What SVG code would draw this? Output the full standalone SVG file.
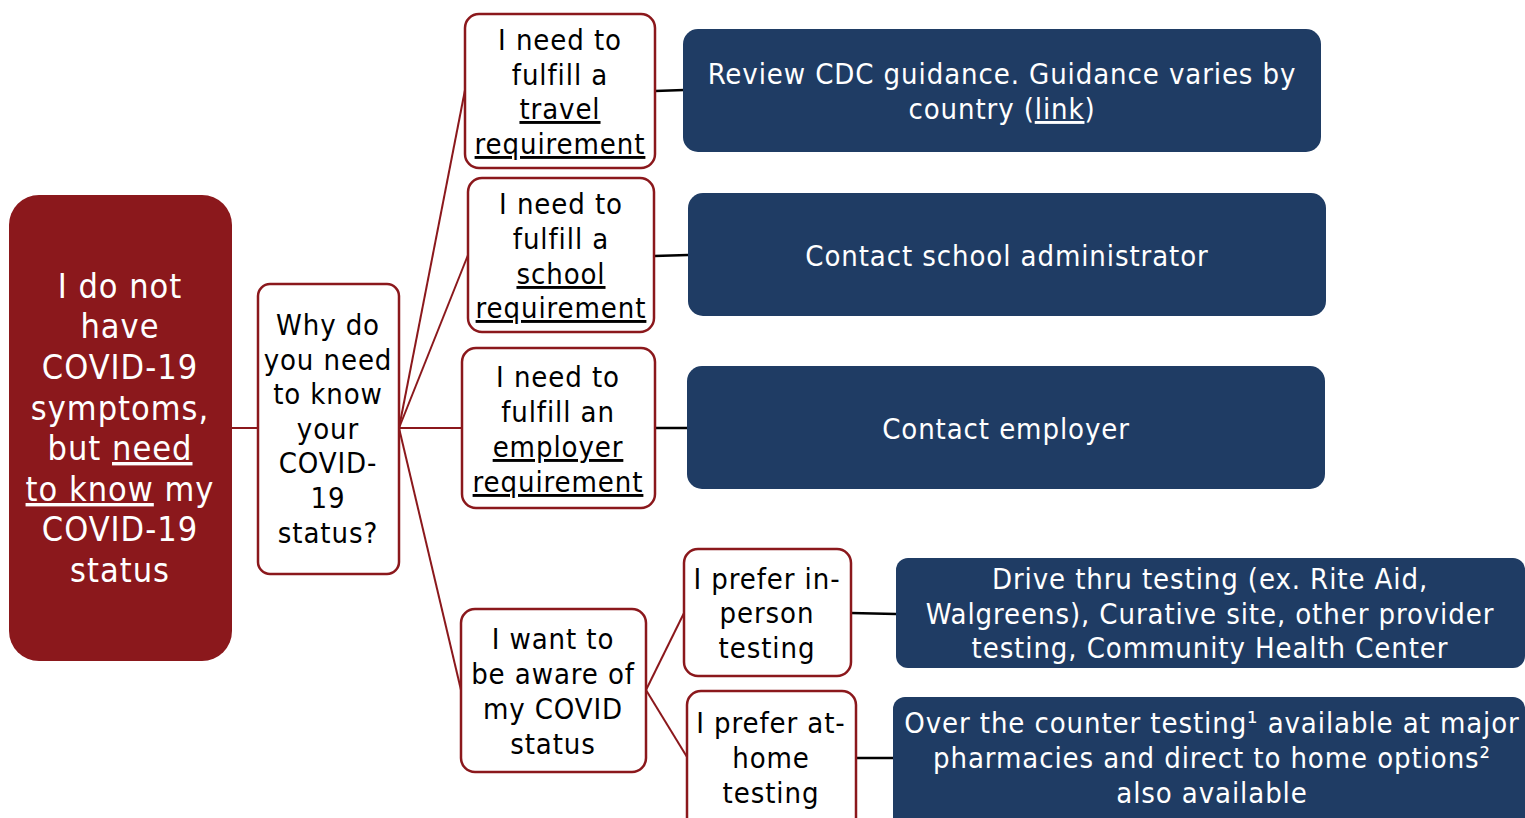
<svg xmlns="http://www.w3.org/2000/svg" width="1525" height="818" viewBox="0 0 1525 818">
<style>
text{font-family:"DejaVu Sans Condensed","DejaVu Sans",sans-serif;font-stretch:condensed;text-anchor:middle}
.root{fill:#8B181C}
.rt{fill:#fff;font-size:34px;letter-spacing:1px}
.q{fill:#fff;stroke:#8B181C;stroke-width:2.5}
.qt{fill:#000;font-size:29px;letter-spacing:0.9px}
.b{fill:#1F3C64}
.bt{fill:#fff;font-size:29px;letter-spacing:0.9px}
.u{text-decoration:underline}
.cr{stroke:#8B181C;stroke-width:2;fill:none}
.ck{stroke:#000;stroke-width:2.5;fill:none}
</style>
<rect width="1525" height="818" fill="#fff"/>
<g id="connectors">
<line class="cr" x1="232" y1="428" x2="258" y2="428"/>
<line class="cr" x1="399" y1="428" x2="465" y2="90"/>
<line class="cr" x1="399" y1="428" x2="468" y2="255"/>
<line class="cr" x1="399" y1="428" x2="462" y2="428"/>
<line class="cr" x1="399" y1="428" x2="461" y2="690"/>
<line class="cr" x1="646" y1="690" x2="684" y2="613"/>
<line class="cr" x1="646" y1="690" x2="687" y2="757"/>
<line class="ck" x1="655" y1="91" x2="684" y2="90"/>
<line class="ck" x1="654" y1="256" x2="688" y2="255"/>
<line class="ck" x1="655" y1="428" x2="688" y2="428"/>
<line class="ck" x1="851" y1="613" x2="896" y2="614"/>
<line class="ck" x1="856" y1="758" x2="893" y2="758"/>
</g>
<g id="root">
<rect class="root" x="9" y="195" width="223" height="466" rx="30"/>
<text class="rt" x="120" y="298">I do not</text>
<text class="rt" x="120" y="338">have</text>
<text class="rt" x="120" y="379">COVID-19</text>
<text class="rt" x="120" y="420">symptoms,</text>
<text class="rt" x="120" y="460">but <tspan class="u">need</tspan></text>
<text class="rt" x="120" y="501"><tspan class="u">to know</tspan> my</text>
<text class="rt" x="120" y="541">COVID-19</text>
<text class="rt" x="120" y="582">status</text>
</g>
<g id="why">
<rect class="q" x="258" y="284" width="141" height="290" rx="12"/>
<text class="qt" x="328" y="335">Why do</text>
<text class="qt" x="328" y="370">you need</text>
<text class="qt" x="328" y="404">to know</text>
<text class="qt" x="328" y="439">your</text>
<text class="qt" x="328" y="473">COVID-</text>
<text class="qt" x="328" y="508">19</text>
<text class="qt" x="328" y="543">status?</text>
</g>
<g id="travel">
<rect class="q" x="465" y="14" width="190" height="154" rx="14"/>
<text class="qt" x="560" y="50">I need to</text>
<text class="qt" x="560" y="85">fulfill a</text>
<text class="qt" x="560" y="119"><tspan class="u">travel</tspan></text>
<text class="qt" x="560" y="154"><tspan class="u">requirement</tspan></text>
</g>
<g id="school">
<rect class="q" x="468" y="178" width="186" height="154" rx="14"/>
<text class="qt" x="561" y="214">I need to</text>
<text class="qt" x="561" y="249">fulfill a</text>
<text class="qt" x="561" y="284"><tspan class="u">school</tspan></text>
<text class="qt" x="561" y="318"><tspan class="u">requirement</tspan></text>
</g>
<g id="employer">
<rect class="q" x="462" y="348" width="193" height="160" rx="14"/>
<text class="qt" x="558" y="387">I need to</text>
<text class="qt" x="558" y="422">fulfill an</text>
<text class="qt" x="558" y="457"><tspan class="u">employer</tspan></text>
<text class="qt" x="558" y="492"><tspan class="u">requirement</tspan></text>
</g>
<g id="aware">
<rect class="q" x="461" y="609" width="185" height="163" rx="14"/>
<text class="qt" x="553" y="649">I want to</text>
<text class="qt" x="553" y="684">be aware of</text>
<text class="qt" x="553" y="719">my COVID</text>
<text class="qt" x="553" y="754">status</text>
</g>
<g id="inperson">
<rect class="q" x="684" y="549" width="167" height="127" rx="14"/>
<text class="qt" x="767" y="589">I prefer in-</text>
<text class="qt" x="767" y="623">person</text>
<text class="qt" x="767" y="658">testing</text>
</g>
<g id="athome">
<rect class="q" x="687" y="691" width="169" height="145" rx="14"/>
<text class="qt" x="771" y="733">I prefer at-</text>
<text class="qt" x="771" y="768">home</text>
<text class="qt" x="771" y="803">testing</text>
</g>
<g id="cdc">
<rect class="b" x="683" y="29" width="638" height="123" rx="15"/>
<text class="bt" x="1002" y="84">Review CDC guidance. Guidance varies by</text>
<text class="bt" x="1002" y="119">country (<tspan class="u">link</tspan>)</text>
</g>
<g id="schooladmin">
<rect class="b" x="688" y="193" width="638" height="123" rx="15"/>
<text class="bt" x="1007" y="266">Contact school administrator</text>
</g>
<g id="employercontact">
<rect class="b" x="687" y="366" width="638" height="123" rx="15"/>
<text class="bt" x="1006" y="439">Contact employer</text>
</g>
<g id="drivethru">
<rect class="b" x="896" y="558" width="629" height="110" rx="12"/>
<text class="bt" x="1210" y="589">Drive thru testing (ex. Rite Aid,</text>
<text class="bt" x="1210" y="624">Walgreens), Curative site, other provider</text>
<text class="bt" x="1210" y="658">testing, Community Health Center</text>
</g>
<g id="otc">
<rect class="b" x="893" y="697" width="632" height="140" rx="12"/>
<text class="bt" x="1212" y="733">Over the counter testing¹ available at major</text>
<text class="bt" x="1212" y="768">pharmacies and direct to home options²</text>
<text class="bt" x="1212" y="803">also available</text>
</g>
</svg>
